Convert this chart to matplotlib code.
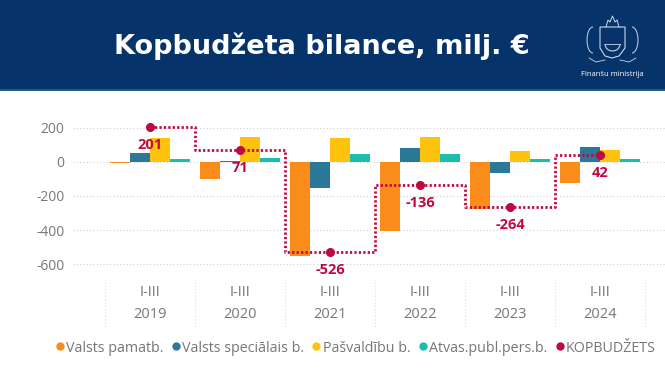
import numpy as np
import matplotlib
matplotlib.use("Agg")
import matplotlib.pyplot as plt
from matplotlib.lines import Line2D
from matplotlib.patches import Arc, Polygon

years = ["2019", "2020", "2021", "2022", "2023", "2024"]
period = "I-III"
series = ["Valsts pamatb.", "Valsts speciālais b.", "Pašvaldību b.", "Atvas.publ.pers.b."]
pamatb = [-5, -101, -552, -403, -275, -126]
specialais = [48, 5, -156, 78, -66, 84]
pasvaldibu = [140, 144, 137, 146, 64, 68]
atvasinatas = [18, 23, 45, 43, 13, 16]
kopbudzets = [201, 71, -526, -136, -264, 42]
total_name = "KOPBUDŽETS"

colors = ["#FA8C1C", "#2B7898", "#FFC20E", "#1CBDAC"]
crimson = "#BE0A40"
navy = "#06346A"
grey = "#777777"

plt.rcParams['font.family'] = ['Open Sans', 'DejaVu Sans']

fig = plt.figure(figsize=(6.65, 3.75), dpi=100)
W, H = 665.0, 375.0

# banner
bn = fig.add_axes([0, 1 - 91 / H, 1, 91 / H])
bn.set_xlim(0, W)
bn.set_ylim(91, 0)
bn.axis("off")
bn.add_patch(plt.Rectangle((0, 0), W, 91, color=navy))
bn.plot([0, W], [90, 90], color="#2F5C8C", lw=1.2)
bn.text(322, 46, "Kopbudžeta bilance, milj. €", color="white", fontsize=19.5,
        fontweight="bold", ha="center", va="center", family=["DejaVu Sans"])
# rough emblem
shield = Polygon([(600, 27), (625, 27), (625, 48), (619, 56), (612, 58), (605, 56), (600, 48)],
                 closed=True, fill=False, ec="#C9D6E6", lw=0.8)
bn.add_patch(shield)
bn.add_patch(Arc((612.5, 44), 15, 14, theta1=0, theta2=180, ec="#C9D6E6", lw=0.8))
bn.plot([605, 620], [44, 44], color="#C9D6E6", lw=0.6)
bn.plot([606, 608, 610, 612.5, 615, 617, 619], [27, 20, 22, 16, 22, 20, 27], color="#C9D6E6", lw=0.7)
bn.add_patch(Arc((593, 40), 12, 26, theta1=90, theta2=270, ec="#C9D6E6", lw=0.7))
bn.add_patch(Arc((632, 40), 12, 26, theta1=-90, theta2=90, ec="#C9D6E6", lw=0.7))
bn.plot([589, 596, 605], [58, 62, 60], color="#C9D6E6", lw=0.6)
bn.plot([620, 629, 636], [60, 62, 58], color="#C9D6E6", lw=0.6)
bn.text(612, 75, "Finanšu ministrija", color="white", fontsize=5.5, ha="center", va="center")

# main chart
y_top, y_bot = 110, 275
ax = fig.add_axes([73 / W, 1 - y_bot / H, 1 - 73 / W, (y_bot - y_top) / H])
x = np.arange(len(years))
unit = 90.0
ax.set_xlim((73 - 150) / unit, (665 - 150) / unit)
ax.set_ylim(-(y_bot - 161.7) * 5.85, (161.7 - y_top) * 5.85)

bw = 20 / unit
data = [pamatb, specialais, pasvaldibu, atvasinatas]
for i, vals in enumerate(data):
    ax.bar(x + (i - 1.5) * bw, vals, width=bw, color=colors[i], zorder=2)

ax.plot(x, kopbudzets, drawstyle="steps-mid", color=crimson, lw=2,
        linestyle=(0, (0.8, 0.8)), zorder=3)
ax.plot(x, kopbudzets, "o", color=crimson, ms=5.5, zorder=4)
for xi, v in zip(x, kopbudzets):
    ax.annotate(str(v), (xi, v), xytext=(0, -13), textcoords="offset points",
                ha="center", va="center", color=crimson, fontsize=10.5, fontweight="bold")

ax.set_yticks([-600, -400, -200, 0, 200])
ax.set_yticklabels(["-600", "-400", "-200", "0", "200"])
ax.tick_params(axis="y", length=0, pad=6, labelsize=10, labelcolor=grey)
ax.set_xticks([])
for s in ax.spines.values():
    s.set_visible(False)
ax.grid(axis="y", color="#D0D0D0", linestyle=(0, (1, 2)), lw=0.8, zorder=0)

# category labels and separators
for xi, yr in zip(x, years):
    xf = (150 + xi * unit) / W
    fig.text(xf, 1 - 293 / H, period, ha="center", va="center", color=grey, fontsize=10.5)
    fig.text(xf, 1 - 315 / H, yr, ha="center", va="center", color=grey, fontsize=10.5)
for k in range(len(years) + 1):
    xp = (105 + k * unit) / W
    fig.add_artist(Line2D([xp, xp], [1 - 282 / H, 1 - 328 / H], color="#DDDDDD",
                          lw=0.8, linestyle=(0, (1, 2))))

handles = [Line2D([], [], marker="o", ls="none", color=c, ms=5) for c in colors + [crimson]]
fig.legend(handles, series + [total_name], loc="center", bbox_to_anchor=(355 / W, 1 - 348 / H),
           ncol=5, frameon=False, fontsize=10.3, handletextpad=0.05, columnspacing=0.45,
           handlelength=0.8, labelcolor=grey)

fig.savefig("out.png", dpi=100)
